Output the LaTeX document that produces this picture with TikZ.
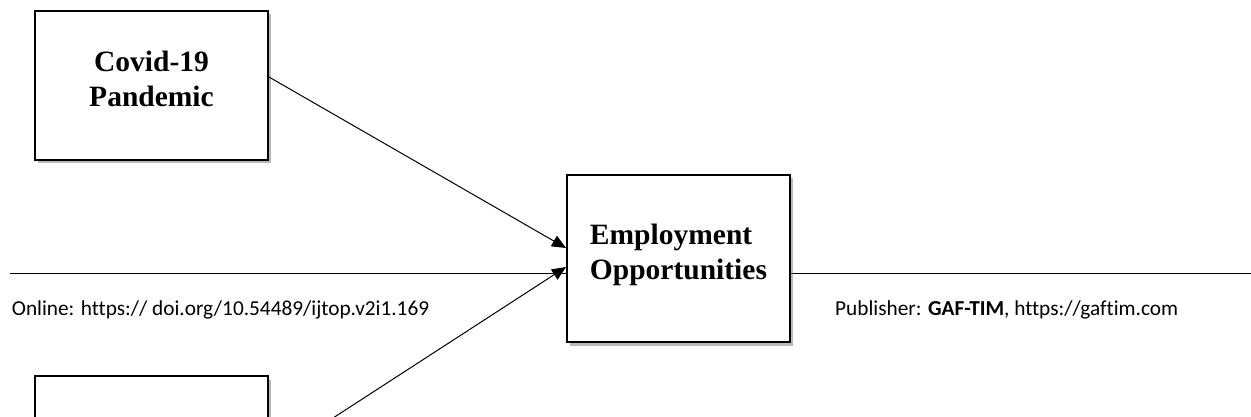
\documentclass[tikz,border=0pt]{standalone}
\usepackage{fontspec}
\setmainfont{Liberation Serif}
\newfontfamily\footfont[Ligatures=NoCommon]{Carlito}
\usetikzlibrary{arrows.meta,shadows}
\newcommand{\lowpad}{\rule[-14pt]{0pt}{0pt}}

\begin{document}
\begin{tikzpicture}[x=1pt, y=-1pt,
		varbox/.style={draw=black, line width=2pt, fill=white, minimum width=233pt, minimum height=149pt,
			font=\fontsize{29.5}{35}\selectfont\bfseries, align=center, inner sep=0pt,
			drop shadow={shadow xshift=3pt, shadow yshift=-3.5pt, fill=black!55, opacity=0.5}},
		link/.style={line width=1pt, -{Triangle[length=14pt, width=12pt]}},
		foot/.style={font=\fontsize{21.3}{25}\footfont, inner sep=0pt, anchor=base west}]
			%%%%% START %%%%%
			
			\useasboundingbox (0, 0) rectangle (1251, 417);
			
			\coordinate (ruleL) at (10, 273.5);
			\coordinate (ruleR) at (1251, 273.5);
			\draw[line width=1.6pt] (ruleL) -- (ruleR);
			
			\node[foot] (online) at (11.7, 315) {Online: https:// doi.org/10.54489/ijtop.v2i1.169};
			\node[foot] (publisher) at (835, 315) {Publisher: \textbf{GAF-TIM}, https://gaftim.com};
			
			\node[varbox] (covid) at (151.5, 85.5) {Covid-19\\Pandemic\lowpad};
			\node[varbox, minimum width=223pt, minimum height=167pt, align=left] (employ) at (678.5, 258.5) {Employment\\Opportunities\lowpad};
			\node[varbox] (lower) at (151.5, 450.5) {};
			
			\draw[link] ([yshift=8.5pt]covid.east) -- ([yshift=10.5pt]employ.west);
			\draw[link] ([yshift=-9pt]lower.east) -- ([yshift=-8.5pt]employ.west);
			
			%%%%% END %%%%%
		\end{tikzpicture}
\end{document}
